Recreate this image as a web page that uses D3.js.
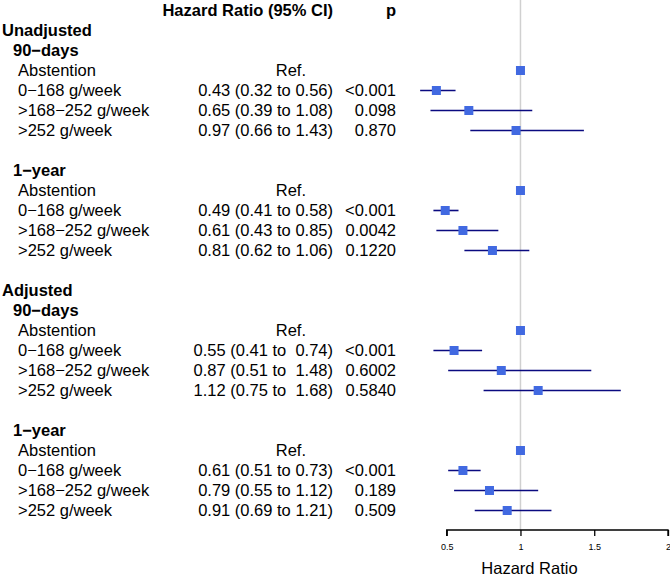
<!DOCTYPE html>
<html>
<head>
<meta charset="utf-8">
<script src="https://cdn.jsdelivr.net/npm/d3@7"></script>
<style>
  html, body { margin: 0; padding: 0; background: #fff; }
  svg { display: block; font-family: "Liberation Sans", Arial, Helvetica, sans-serif; }
  text { white-space: pre; }
</style>
</head>
<body>
<svg id="chart" width="670" height="577"></svg>
<script>
// ---- Data ----
const labels = [
  "Unadjusted", "90\u2212days", "Abstention", "0\u2212168 g/week", ">168\u2212252 g/week", ">252 g/week", "",
  "1\u2212year", "Abstention", "0\u2212168 g/week", ">168\u2212252 g/week", ">252 g/week", "",
  "Adjusted", "90\u2212days", "Abstention", "0\u2212168 g/week", ">168\u2212252 g/week", ">252 g/week", "",
  "1\u2212year", "Abstention", "0\u2212168 g/week", ">168\u2212252 g/week", ">252 g/week"
];
const levels = [1,2,3,3,3,3,0, 2,3,3,3,3,0, 1,2,3,3,3,3,0, 2,3,3,3,3];
const hr    = [null,null,1,0.43,0.65,0.97,null, null,1,0.49,0.61,0.81,null, null,null,1,0.55,0.87,1.12,null, null,1,0.61,0.79,0.91];
const lower = [null,null,1,0.32,0.39,0.66,null, null,1,0.41,0.43,0.62,null, null,null,1,0.41,0.51,0.75,null, null,1,0.51,0.55,0.69];
const upper = [null,null,1,0.56,1.08,1.43,null, null,1,0.58,0.85,1.06,null, null,null,1,0.74,1.48,1.68,null, null,1,0.73,1.12,1.21];
const hrText = ["","","Ref.","0.43 (0.32 to 0.56)","0.65 (0.39 to 1.08)","0.97 (0.66 to 1.43)","",
  "","Ref.","0.49 (0.41 to 0.58)","0.61 (0.43 to 0.85)","0.81 (0.62 to 1.06)","",
  "","","Ref.","0.55 (0.41 to  0.74)","0.87 (0.51 to  1.48)","1.12 (0.75 to  1.68)","",
  "","Ref.","0.61 (0.51 to 0.73)","0.79 (0.55 to 1.12)","0.91 (0.69 to 1.21)"];
const pText = ["","","","<0.001","0.098","0.870","",
  "","","<0.001","0.0042","0.1220","",
  "","","","<0.001","0.6002","0.5840","",
  "","","<0.001","0.189","0.509"];
const xTicks = [0.5, 1, 1.5, 2];
const headerHR = "Hazard Ratio (95% CI)";
const headerP = "p";
const xTitle = "Hazard Ratio";

// ---- Layout ----
const svg = d3.select("#chart");
const fs = 16.5;
const rowY = d3.scaleLinear().domain([0, 1]).range([30.5, 50.5]); // row i center (after header)
const x = d3.scaleLinear().domain([0.5, 2]).range([446.7, 668]);
const axisY = 530;
const xLabel = {1: 2, 2: 13, 3: 18};
const hrRight = 333, refRight = 306, pRight = 396;

// reference line
svg.append("line")
  .attr("x1", x(1)).attr("x2", x(1))
  .attr("y1", 0).attr("y2", axisY)
  .attr("stroke", "#d0d0d0").attr("stroke-width", 1.5);

// headers
svg.append("text").attr("x", hrRight).attr("y", 10.5).attr("dy", "0.36em")
  .attr("text-anchor", "end").attr("font-weight", "bold").attr("font-size", fs).text(headerHR);
svg.append("text").attr("x", pRight).attr("y", 10.5).attr("dy", "0.36em")
  .attr("text-anchor", "end").attr("font-weight", "bold").attr("font-size", fs).text(headerP);

const idx = d3.range(labels.length);

// labels
svg.append("g").selectAll("text").data(idx.filter(i => labels[i] !== "")).join("text")
  .attr("x", i => xLabel[levels[i]])
  .attr("y", i => rowY(i))
  .attr("dy", "0.36em")
  .attr("font-size", fs)
  .attr("font-weight", i => levels[i] < 3 ? "bold" : "normal")
  .text(i => labels[i]);

// HR text
svg.append("g").selectAll("text").data(idx.filter(i => hrText[i] !== "")).join("text")
  .attr("x", i => hrText[i] === "Ref." ? refRight : hrRight)
  .attr("y", i => rowY(i))
  .attr("dy", "0.36em")
  .attr("text-anchor", "end")
  .attr("font-size", fs)
  .text(i => hrText[i]);

// p text
svg.append("g").selectAll("text").data(idx.filter(i => pText[i] !== "")).join("text")
  .attr("x", pRight)
  .attr("y", i => rowY(i))
  .attr("dy", "0.36em")
  .attr("text-anchor", "end")
  .attr("font-size", fs)
  .text(i => pText[i]);

// CI lines
const est = idx.filter(i => hr[i] !== null);
svg.append("g").selectAll("line").data(est.filter(i => upper[i] > lower[i])).join("line")
  .attr("x1", i => x(lower[i])).attr("x2", i => x(upper[i]))
  .attr("y1", i => rowY(i)).attr("y2", i => rowY(i))
  .attr("stroke", "#0a0a80").attr("stroke-width", 1.6);

// boxes
const bs = 9;
svg.append("g").selectAll("rect").data(est).join("rect")
  .attr("x", i => x(hr[i]) - bs / 2).attr("y", i => rowY(i) - bs / 2)
  .attr("width", bs).attr("height", bs)
  .attr("fill", "#4169E1");

// axis
const axis = d3.axisBottom(x).tickValues(xTicks).tickSize(6).tickFormat(d3.format("~g"));
const gAxis = svg.append("g").attr("transform", `translate(0,${axisY})`).call(axis);
gAxis.select(".domain").attr("stroke", "#000").attr("stroke-width", 1.3).attr("d", `M${x(0.5)},6V0H${x(2)}V6`);
gAxis.selectAll(".tick line").attr("stroke", "#000").attr("stroke-width", 1.3);
gAxis.selectAll(".tick text").attr("font-size", 9).attr("font-family", "Liberation Sans, Arial, sans-serif")
  .attr("y", 14).attr("fill", "#000");

svg.append("text").attr("x", x(1) + 9).attr("y", 568).attr("dy", "0.36em")
  .attr("text-anchor", "middle").attr("font-size", fs).text(xTitle);
</script>
</body>
</html>
